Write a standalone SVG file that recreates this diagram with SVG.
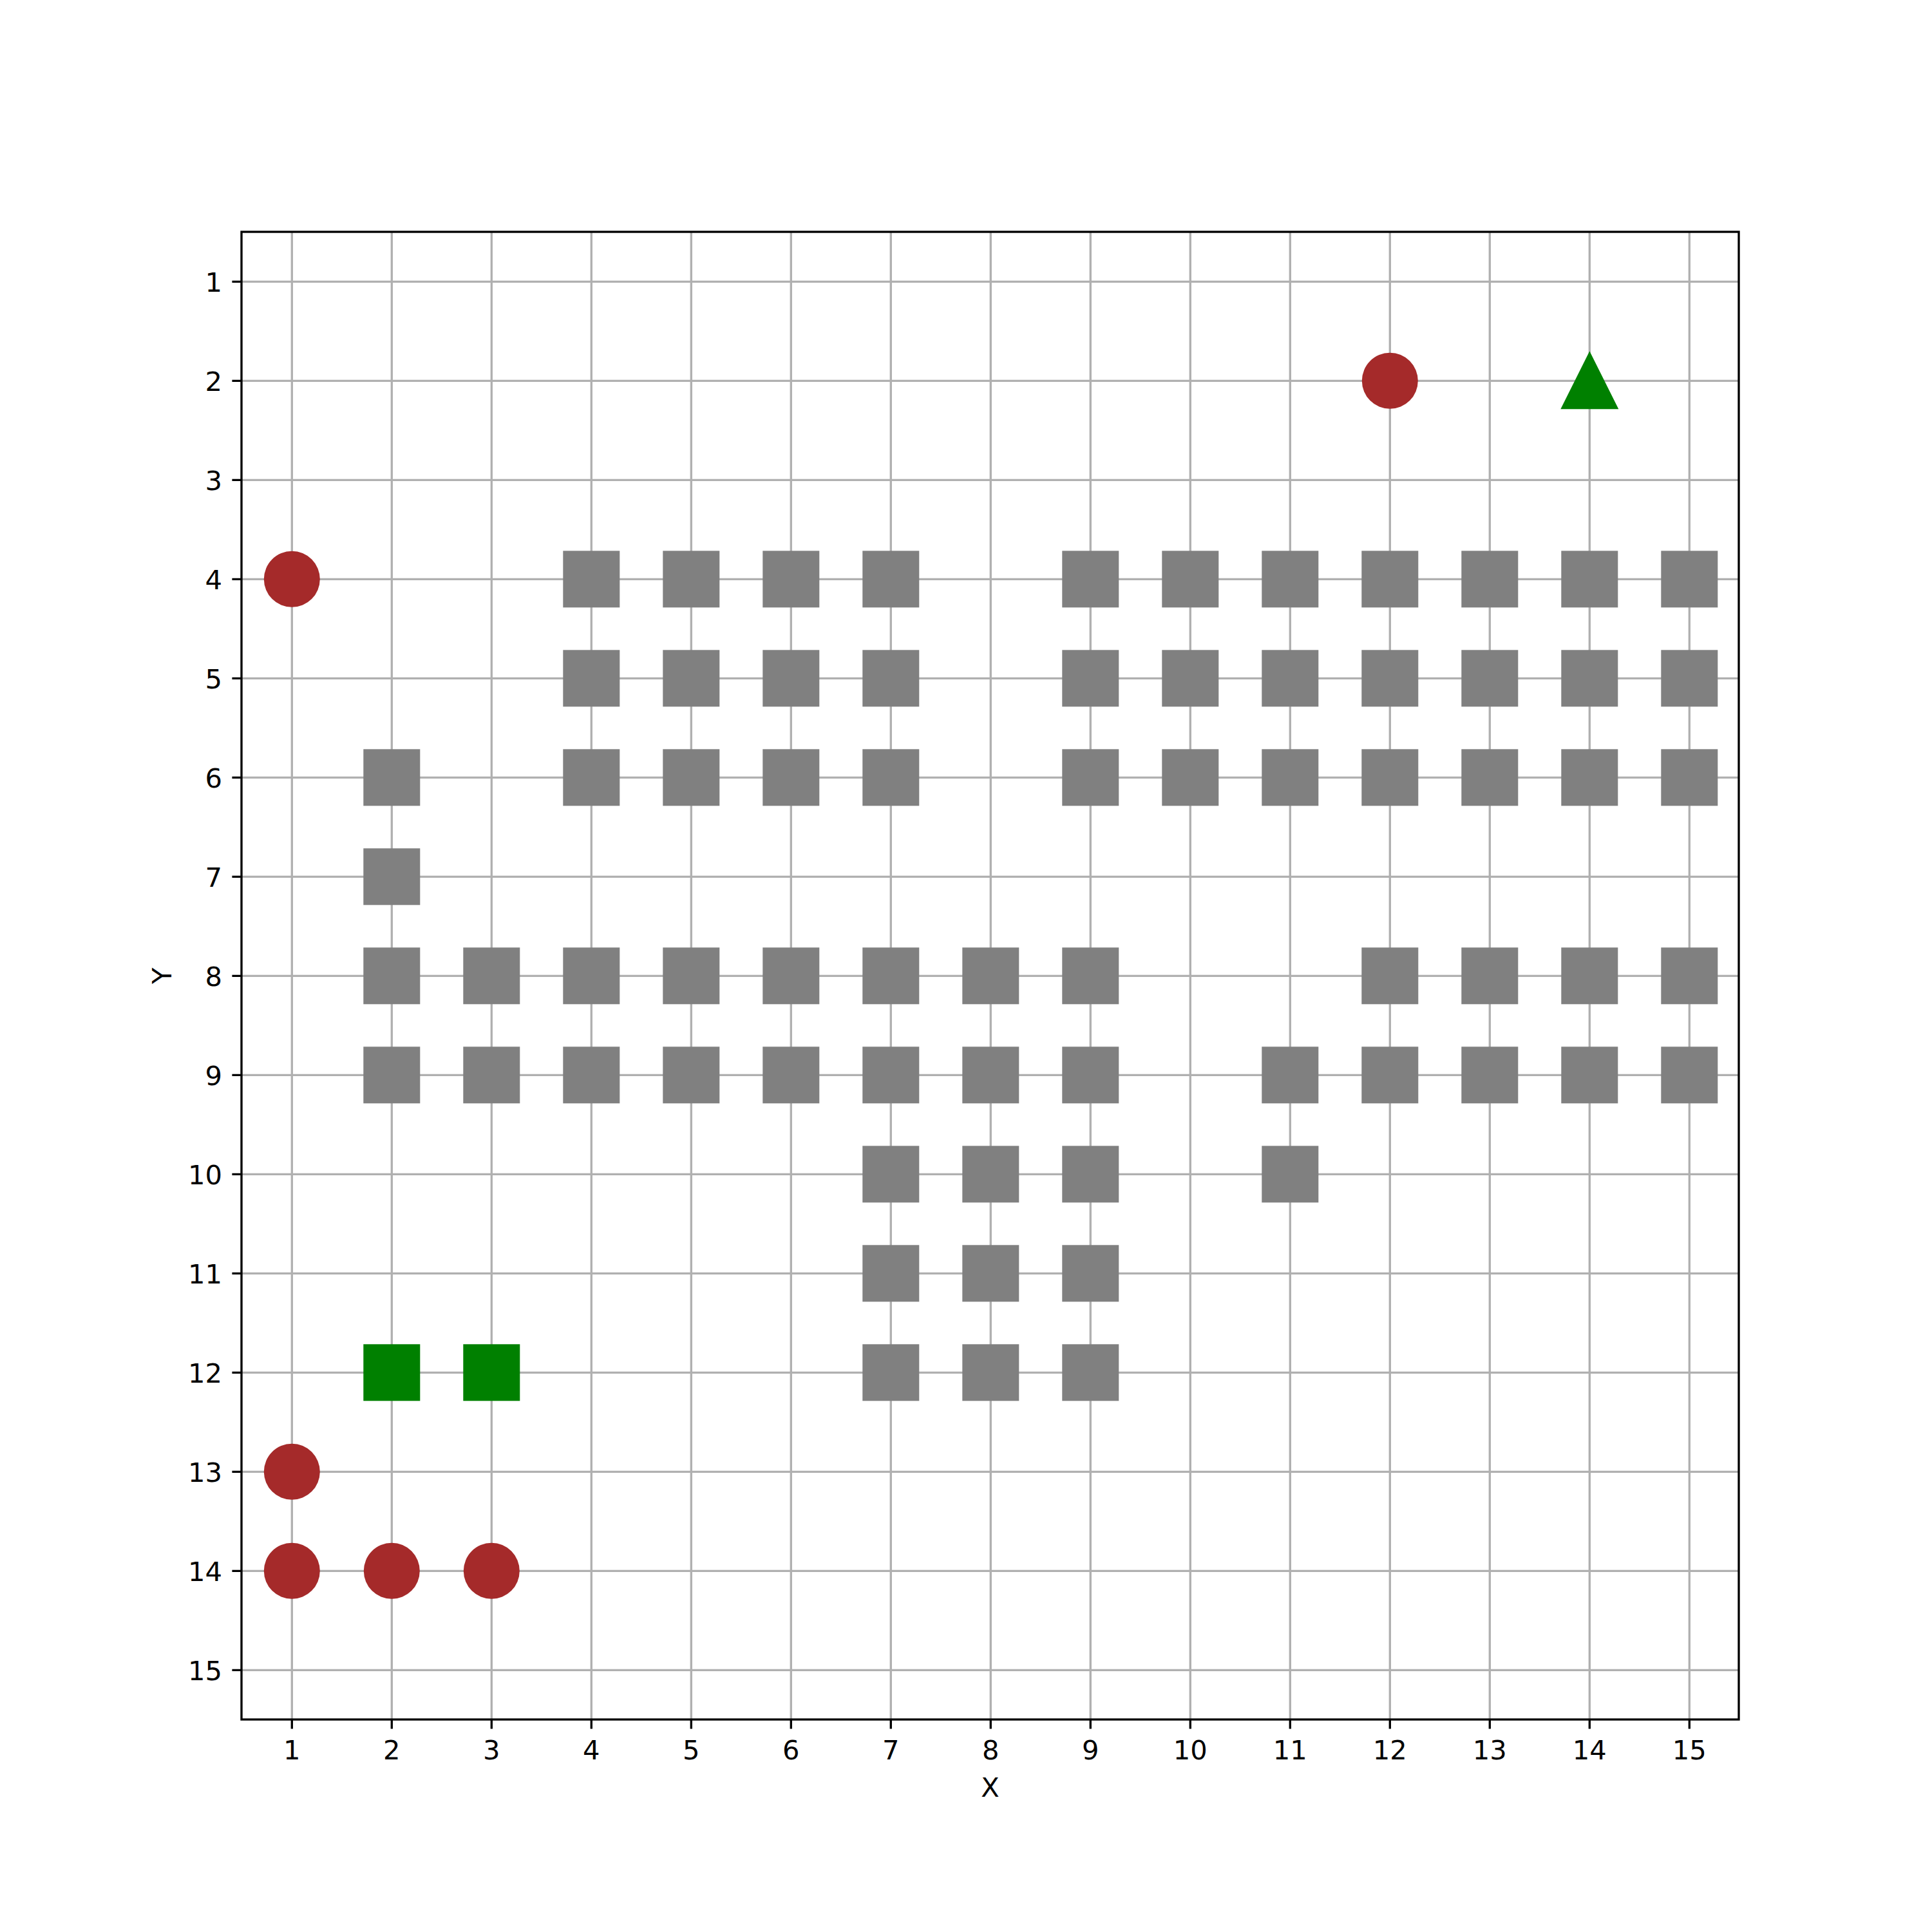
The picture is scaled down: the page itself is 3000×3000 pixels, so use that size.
<svg xmlns="http://www.w3.org/2000/svg" width="3000" height="3000" viewBox="0 0 3000 3000">
<style>
.grid{stroke:#b0b0b0;stroke-width:3.33;fill:none}
.tick{stroke:#000;stroke-width:3.33}
.axis{stroke:#000;stroke-width:3.33;fill:none;stroke-linejoin:miter;stroke-linecap:square}
.lbl{font-family:"DejaVu Sans",sans-serif;font-size:41.67px;fill:#000}
.wall{fill:#808080}
.goal{fill:#008000}
.agent{fill:#a52a2a}
</style>
<defs>
<rect id="sq" x="-44" y="-44" width="88" height="88"/>
<circle id="ci" r="43.5"/>
</defs>
<rect width="3000" height="3000" fill="#fff"/>
<g id="grid">
<path class="grid" d="M453.3 360V2670M608.3 360V2670M763.3 360V2670M918.3 360V2670M1073.3 360V2670M1228.3 360V2670M1383.3 360V2670M1538.3 360V2670M1693.3 360V2670M1848.3 360V2670M2003.3 360V2670M2158.3 360V2670M2313.3 360V2670M2468.3 360V2670M2623.3 360V2670"/>
<path class="grid" d="M375 437.3H2700M375 591.3H2700M375 745.3H2700M375 899.3H2700M375 1053.3H2700M375 1207.3H2700M375 1361.3H2700M375 1515.3H2700M375 1669.3H2700M375 1823.3H2700M375 1977.3H2700M375 2131.3H2700M375 2285.3H2700M375 2439.3H2700M375 2593.3H2700"/>
</g>
<g id="walls" class="wall">
<use href="#sq" x="918.3" y="899.3"/><use href="#sq" x="1073.3" y="899.3"/><use href="#sq" x="1228.3" y="899.3"/><use href="#sq" x="1383.3" y="899.3"/><use href="#sq" x="1693.3" y="899.3"/><use href="#sq" x="1848.3" y="899.3"/><use href="#sq" x="2003.3" y="899.3"/><use href="#sq" x="2158.3" y="899.3"/><use href="#sq" x="2313.3" y="899.3"/><use href="#sq" x="2468.3" y="899.3"/><use href="#sq" x="2623.3" y="899.3"/>
<use href="#sq" x="918.3" y="1053.3"/><use href="#sq" x="1073.3" y="1053.3"/><use href="#sq" x="1228.3" y="1053.3"/><use href="#sq" x="1383.3" y="1053.3"/><use href="#sq" x="1693.3" y="1053.3"/><use href="#sq" x="1848.3" y="1053.3"/><use href="#sq" x="2003.3" y="1053.3"/><use href="#sq" x="2158.3" y="1053.3"/><use href="#sq" x="2313.3" y="1053.3"/><use href="#sq" x="2468.3" y="1053.3"/><use href="#sq" x="2623.3" y="1053.3"/>
<use href="#sq" x="608.3" y="1207.3"/><use href="#sq" x="918.3" y="1207.3"/><use href="#sq" x="1073.3" y="1207.3"/><use href="#sq" x="1228.3" y="1207.3"/><use href="#sq" x="1383.3" y="1207.3"/><use href="#sq" x="1693.3" y="1207.3"/><use href="#sq" x="1848.3" y="1207.3"/><use href="#sq" x="2003.3" y="1207.3"/><use href="#sq" x="2158.3" y="1207.3"/><use href="#sq" x="2313.3" y="1207.3"/><use href="#sq" x="2468.3" y="1207.3"/><use href="#sq" x="2623.3" y="1207.3"/>
<use href="#sq" x="608.3" y="1361.3"/>
<use href="#sq" x="608.3" y="1515.3"/><use href="#sq" x="763.3" y="1515.3"/><use href="#sq" x="918.3" y="1515.3"/><use href="#sq" x="1073.3" y="1515.3"/><use href="#sq" x="1228.3" y="1515.3"/><use href="#sq" x="1383.3" y="1515.3"/><use href="#sq" x="1538.3" y="1515.3"/><use href="#sq" x="1693.3" y="1515.3"/><use href="#sq" x="2158.3" y="1515.3"/><use href="#sq" x="2313.3" y="1515.3"/><use href="#sq" x="2468.3" y="1515.3"/><use href="#sq" x="2623.3" y="1515.3"/>
<use href="#sq" x="608.3" y="1669.3"/><use href="#sq" x="763.3" y="1669.3"/><use href="#sq" x="918.3" y="1669.3"/><use href="#sq" x="1073.3" y="1669.3"/><use href="#sq" x="1228.3" y="1669.3"/><use href="#sq" x="1383.3" y="1669.3"/><use href="#sq" x="1538.3" y="1669.3"/><use href="#sq" x="1693.3" y="1669.3"/><use href="#sq" x="2003.3" y="1669.3"/><use href="#sq" x="2158.3" y="1669.3"/><use href="#sq" x="2313.3" y="1669.3"/><use href="#sq" x="2468.3" y="1669.3"/><use href="#sq" x="2623.3" y="1669.3"/>
<use href="#sq" x="1383.3" y="1823.3"/><use href="#sq" x="1538.3" y="1823.3"/><use href="#sq" x="1693.3" y="1823.3"/><use href="#sq" x="2003.3" y="1823.3"/>
<use href="#sq" x="1383.3" y="1977.3"/><use href="#sq" x="1538.3" y="1977.3"/><use href="#sq" x="1693.3" y="1977.3"/>
<use href="#sq" x="1383.3" y="2131.3"/><use href="#sq" x="1538.3" y="2131.3"/><use href="#sq" x="1693.3" y="2131.3"/>
</g>
<g id="goals" class="goal">
<use href="#sq" x="608.3" y="2131.3"/><use href="#sq" x="763.3" y="2131.3"/>
</g>
<g id="agents" class="agent">
<use href="#ci" x="2158.3" y="591.3"/><use href="#ci" x="453.3" y="899.3"/><use href="#ci" x="453.3" y="2285.3"/><use href="#ci" x="453.3" y="2439.3"/><use href="#ci" x="608.3" y="2439.3"/><use href="#ci" x="763.3" y="2439.3"/>
</g>
<g id="target">
<polygon class="goal" points="2468.3,545.3 2423.3,635.3 2513.3,635.3"/>
</g>
<g id="axes">
<rect class="axis" x="375" y="360" width="2325" height="2310"/>
<path class="tick" d="M453.3 2670v14.6M608.3 2670v14.6M763.3 2670v14.6M918.3 2670v14.6M1073.3 2670v14.6M1228.3 2670v14.6M1383.3 2670v14.6M1538.3 2670v14.6M1693.3 2670v14.6M1848.3 2670v14.6M2003.3 2670v14.6M2158.3 2670v14.6M2313.3 2670v14.6M2468.3 2670v14.6M2623.3 2670v14.6"/>
<path class="tick" d="M375 437.3h-14.6M375 591.3h-14.6M375 745.3h-14.6M375 899.3h-14.6M375 1053.3h-14.6M375 1207.3h-14.6M375 1361.3h-14.6M375 1515.3h-14.6M375 1669.3h-14.6M375 1823.3h-14.6M375 1977.3h-14.6M375 2131.3h-14.6M375 2285.3h-14.6M375 2439.3h-14.6M375 2593.3h-14.6"/>
<g class="lbl" text-anchor="middle">
<text x="453.3" y="2732">1</text><text x="608.3" y="2732">2</text><text x="763.3" y="2732">3</text><text x="918.3" y="2732">4</text><text x="1073.3" y="2732">5</text><text x="1228.3" y="2732">6</text><text x="1383.3" y="2732">7</text><text x="1538.3" y="2732">8</text><text x="1693.3" y="2732">9</text><text x="1848.3" y="2732">10</text><text x="2003.3" y="2732">11</text><text x="2158.3" y="2732">12</text><text x="2313.3" y="2732">13</text><text x="2468.3" y="2732">14</text><text x="2623.3" y="2732">15</text>
<text x="1537.5" y="2790">X</text>
<text transform="translate(266 1515.3) rotate(-90)">Y</text>
</g>
<g class="lbl" text-anchor="end">
<text x="345" y="452.5">1</text><text x="345" y="606.5">2</text><text x="345" y="760.5">3</text><text x="345" y="914.5">4</text><text x="345" y="1068.5">5</text><text x="345" y="1222.5">6</text><text x="345" y="1376.5">7</text><text x="345" y="1530.5">8</text><text x="345" y="1684.5">9</text><text x="345" y="1838.5">10</text><text x="345" y="1992.5">11</text><text x="345" y="2146.5">12</text><text x="345" y="2300.5">13</text><text x="345" y="2454.5">14</text><text x="345" y="2608.5">15</text>
</g>
</g>
</svg>
